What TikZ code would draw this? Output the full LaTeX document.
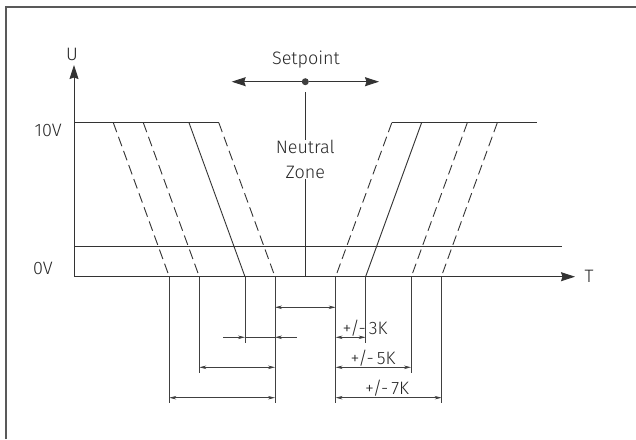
\documentclass[tikz,border=0pt]{standalone}
\usepackage{fontspec}
\setmainfont{Fira Sans Light}
\usetikzlibrary{arrows.meta}

\begin{document}
\begin{tikzpicture}[x=1pt, y=-1pt,
	every node/.style={font=\fontsize{18}{25}\selectfont, text=black!85, inner sep=0pt},
	ln/.style={draw=black!80, line width=0.9pt},
	dsh/.style={ln, dash pattern=on 10pt off 5pt},
	ext/.style={draw=black!75, line width=0.7pt},
	tip/.tip={Stealth[length=7pt, width=3.5pt]},
	dim/.style={ext, tip-tip},
	big/.tip={Stealth[length=14pt, width=9pt, inset=1.5pt]}]
			\useasboundingbox (0,0) rectangle (636,439);
			% frame
			\draw [line width=1.5pt, black!65] (6,439) -- (6,7) -- (636,7);
			% axes
			\coordinate (o) at (74,276.7);
			\coordinate (utip) at (74,65);
			\coordinate (ttip) at (575,276.7);
			\draw [ln, -big] (o) -- (utip);
			\draw [ln, -big] (o) -- (ttip);
			\node (ulab) at (72,54.5) {U};
			\node (tlab) at (589,276.7) {T};
			\node [anchor=east] (hi) at (62,130.8) {10V};
			\node [anchor=east] (lo) at (53,268.8) {0V};
			\draw [ln] (74,122.7) -- (218.8,122.7);
			\draw [ln] (391.8,122.7) -- (536.7,122.7);
			\draw [ln] (74,246.7) -- (561.7,246.7);
			% setpoint
			\node [circle, fill=black!75, minimum size=7pt] (sp) at (305.3,81.7) {};
			\node (splab) at (306,60) {Setpoint};
			\draw [ln, -big] (sp) -- (231.7,81.7);
			\draw [ln, -big] (sp) -- (379,81.7);
			\node [align=center] (nz) at (305.3,159.5) {Neutral\\Zone};
			\draw [ln] (305.3,92) -- (nz.north);
			\draw [ln] (nz.south) -- (305.3,276.7);
			% slopes
			\foreach \t/\b/\s in {192/136/dsh, 162/106/dsh, 116.3/60.3/ln, 86.5/30.3/dsh}{
				\draw [\s] (305.3-\t,122.7) -- (305.3-\b,276.7);
				\draw [\s] (305.3+\t,122.7) -- (305.3+\b,276.7);
			}
			% extension lines
			\foreach \b/\e in {136/403.3, 106/373.3, 60.3/343.3, 30.3/403.3}{
				\draw [ext] (305.3-\b,276.7) -- (305.3-\b,\e);
				\draw [ext] (305.3+\b,276.7) -- (305.3+\b,\e);
			}
			% dimensions
			\draw [dim] (275,307.3) -- (335.6,307.3);
			\draw [ext, -tip] (223.3,337.3) -- (245,337.3);
			\draw [ext] (245,337.3) -- (275,337.3);
			\draw [ext, -tip] (296.7,337.3) -- (275,337.3);
			\draw [dim] (199.3,367.3) -- (275,367.3);
			\draw [dim] (169.3,397.7) -- (275,397.7);
			\draw [dim] (335.6,337.3) -- (365.6,337.3);
			\draw [dim] (335.6,367.3) -- (411,367.3);
			\draw [dim] (335.6,397.7) -- (441.6,397.7);
			\node (k3) at (365,328.3) {+/-\,3K};
			\node (k5) at (373,357.7) {+/-\,5K};
			\node (k7) at (387,388.3) {+/-\,7K};
\end{tikzpicture}
\end{document}
